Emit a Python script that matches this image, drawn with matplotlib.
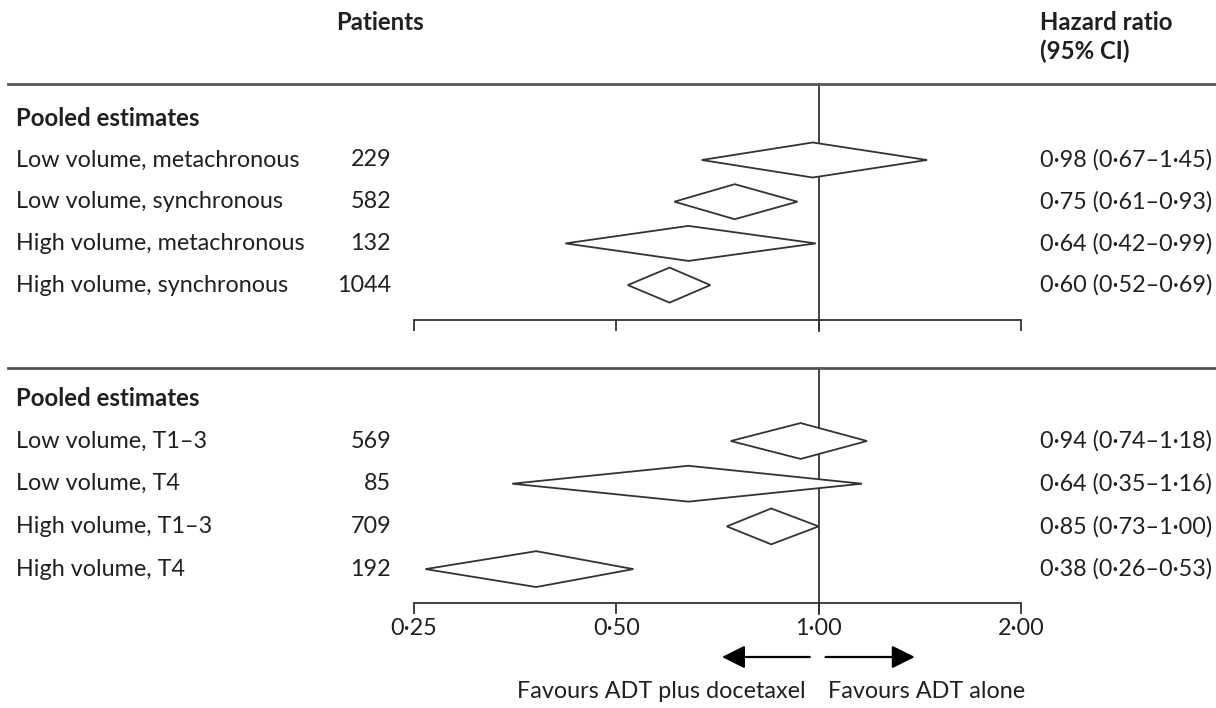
import matplotlib
matplotlib.use("Agg")
import matplotlib.pyplot as plt
from matplotlib.patches import Polygon
from matplotlib.lines import Line2D
from matplotlib.transforms import blended_transform_factory
import numpy as np

plt.rcParams['font.family'] = ['Lato', 'DejaVu Sans']

# ---------------- data ----------------
group_header = "Pooled estimates"
labels_top = ["Low volume, metachronous", "Low volume, synchronous",
              "High volume, metachronous", "High volume, synchronous"]
patients_top = [229, 582, 132, 1044]
hr_top = [0.98, 0.75, 0.64, 0.60]
lo_top = [0.67, 0.61, 0.42, 0.52]
hi_top = [1.45, 0.93, 0.99, 0.69]

labels_bot = ["Low volume, T1\u20133", "Low volume, T4",
              "High volume, T1\u20133", "High volume, T4"]
patients_bot = [569, 85, 709, 192]
hr_bot = [0.94, 0.64, 0.85, 0.38]
lo_bot = [0.74, 0.35, 0.73, 0.26]
hi_bot = [1.18, 1.16, 1.00, 0.53]

xticks = [0.25, 0.50, 1.00, 2.00]
xtick_labels = ["0\u00b725", "0\u00b750", "1\u00b700", "2\u00b700"]

W, H = 1216, 708
fig = plt.figure(figsize=(W / 100, H / 100), dpi=100)

TXT = "#231f20"
FS = 16.8
FSB = 17.3


def fx(px):
    return px / W


def fy(py):
    return 1 - py / H


def fmt(v):
    return f"{v:.2f}".replace(".", "\u00b7")


def make_panel(top_px, axis_px, first_row_px, spacing, labels, patients, hr, lo, hi, show_labels):
    x0, x1 = 414, 1021
    ax = fig.add_axes([fx(x0), fy(axis_px), fx(x1) - fx(x0), fy(top_px) - fy(axis_px)])
    ax.set_xscale('log', base=2)
    ax.set_xlim(0.25, 2.0)
    y_top = (top_px - first_row_px) / spacing
    y_bot = (axis_px - first_row_px) / spacing
    ax.set_ylim(y_bot, y_top)
    ax.patch.set_alpha(0)
    for s in ['top', 'right', 'left']:
        ax.spines[s].set_visible(False)
    ax.spines['bottom'].set_linewidth(1.3)
    ax.spines['bottom'].set_color('#333333')
    ax.set_yticks([])
    ax.set_xticks(xticks)
    ax.xaxis.set_minor_locator(matplotlib.ticker.NullLocator())
    if show_labels:
        ax.set_xticklabels(xtick_labels, fontsize=FS, color=TXT)
    else:
        ax.set_xticklabels([])
    ax.tick_params(axis='x', direction='out', length=8, width=1.3, color='#333333', pad=3)
    ax.plot([1, 1], [y_top, y_bot + 11 / spacing], color='#333333', lw=1.3,
            clip_on=False, zorder=3)
    half = 0.42
    for i, (h, l, u) in enumerate(zip(hr, lo, hi)):
        poly = Polygon([[l, i], [h, i - half], [u, i], [h, i + half]], closed=True,
                       facecolor='white', edgecolor='#333333', lw=1.3, zorder=4)
        ax.add_patch(poly)
    tr = blended_transform_factory(fig.transFigure, ax.transData)
    ax.text(fx(16), -1, group_header, transform=tr, fontsize=FSB, fontweight='bold',
            color=TXT, va='center', ha='left')
    for i, (lab, n, h, l, u) in enumerate(zip(labels, patients, hr, lo, hi)):
        ax.text(fx(16), i, lab, transform=tr, fontsize=FS, color=TXT, va='center', ha='left')
        ax.text(fx(391), i, str(n), transform=tr, fontsize=FS, color=TXT, va='center', ha='right')
        ax.text(fx(1040), i, f"{fmt(h)} ({fmt(l)}\u2013{fmt(u)})", transform=tr,
                fontsize=FS, color=TXT, va='center', ha='left')
    return ax


ax1 = make_panel(84, 320, 160, 41.7, labels_top, patients_top, hr_top, lo_top, hi_top, False)
ax2 = make_panel(368, 603, 441, 42.7, labels_bot, patients_bot, hr_bot, lo_bot, hi_bot, True)

# separators
for py in (84, 368):
    fig.add_artist(Line2D([fx(8), 1.0], [fy(py), fy(py)], color='#555555', lw=2.0))

# headers
fig.text(fx(336), fy(22), "Patients", fontsize=FSB, fontweight='bold', color=TXT, va='center', ha='left')
fig.text(fx(1040), fy(22), "Hazard ratio", fontsize=FSB, fontweight='bold', color=TXT, va='center', ha='left')
fig.text(fx(1040), fy(51), "(95% CI)", fontsize=FSB, fontweight='bold', color=TXT, va='center', ha='left')

# arrows
tr_arr = blended_transform_factory(ax2.transData, fig.transFigure)
arr_kw = dict(arrowstyle='-|>,head_length=1.4,head_width=0.7', color='black', lw=1.6,
              shrinkA=0, shrinkB=0)
ax2.annotate("", xy=(0.718, fy(657)), xytext=(0.97, fy(657)),
             xycoords=tr_arr, textcoords=tr_arr, arrowprops=arr_kw, annotation_clip=False)
ax2.annotate("", xy=(1.39, fy(657)), xytext=(1.024, fy(657)),
             xycoords=tr_arr, textcoords=tr_arr, arrowprops=arr_kw, annotation_clip=False)
fig.text(fx(806), fy(692), "Favours ADT plus docetaxel", fontsize=FS, color=TXT, va='center', ha='right')
fig.text(fx(828), fy(692), "Favours ADT alone", fontsize=FS, color=TXT, va='center', ha='left')

fig.savefig("out.png", dpi=100)
